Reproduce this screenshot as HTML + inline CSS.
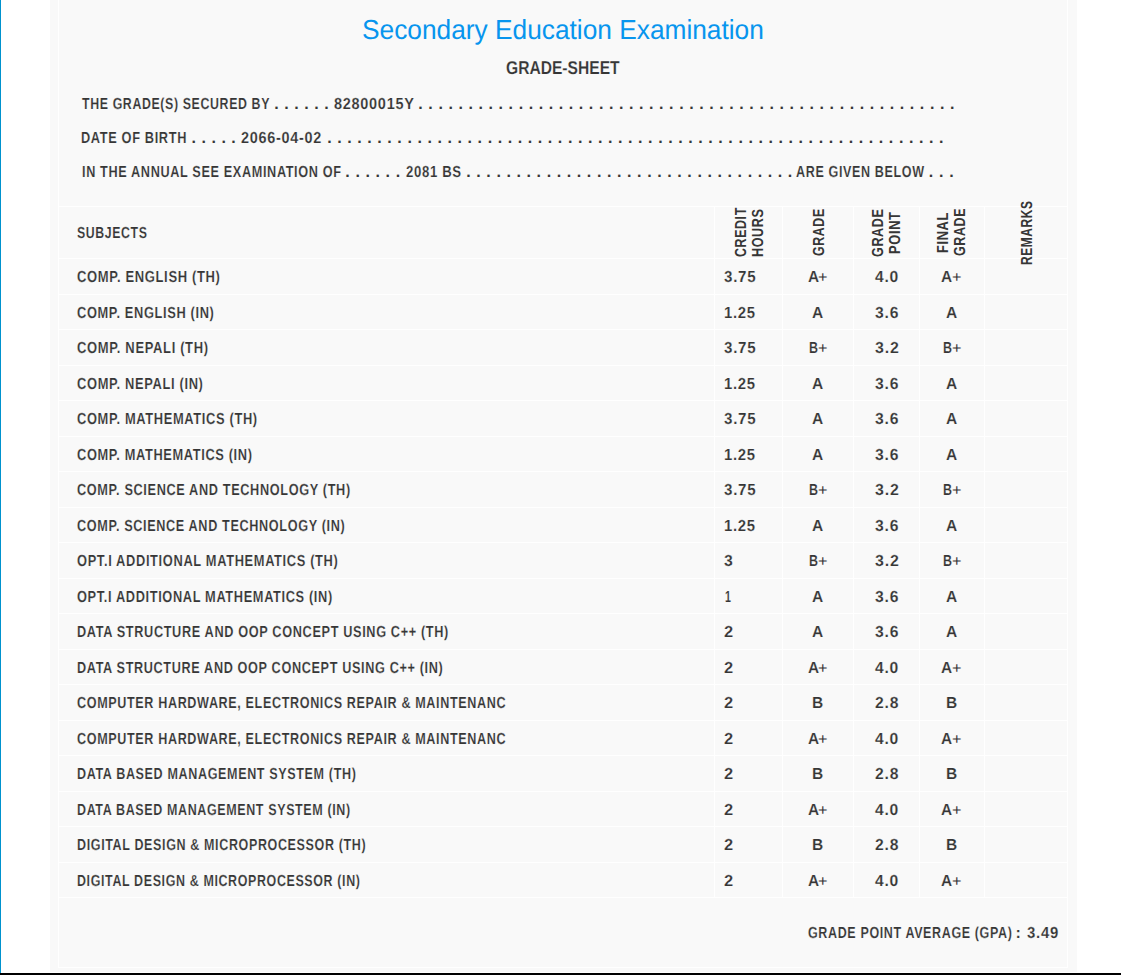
<!DOCTYPE html>
<html><head><meta charset="utf-8"><title>Grade Sheet</title>
<style>
html,body{margin:0;padding:0;}
body{width:1121px;height:975px;position:relative;overflow:hidden;background:#fff;font-family:"Liberation Sans",sans-serif;}
.t{position:absolute;white-space:pre;line-height:30px;transform-origin:0 0;}
.w{position:absolute;background:#fff;}
</style></head><body>
<div style="position:absolute;left:0;top:0;width:1px;height:973px;background:#0092ce"></div>
<div style="position:absolute;left:50px;top:0;width:1027px;height:972px;background:#f9f9f9"></div>
<div class="w" style="left:58px;top:206px;width:1010px;height:1px"></div>
<div class="w" style="left:58px;top:258px;width:1010px;height:1px"></div>
<div class="w" style="left:58px;top:294px;width:1010px;height:1px"></div>
<div class="w" style="left:58px;top:329px;width:1010px;height:1px"></div>
<div class="w" style="left:58px;top:365px;width:1010px;height:1px"></div>
<div class="w" style="left:58px;top:400px;width:1010px;height:1px"></div>
<div class="w" style="left:58px;top:436px;width:1010px;height:1px"></div>
<div class="w" style="left:58px;top:471px;width:1010px;height:1px"></div>
<div class="w" style="left:58px;top:507px;width:1010px;height:1px"></div>
<div class="w" style="left:58px;top:542px;width:1010px;height:1px"></div>
<div class="w" style="left:58px;top:578px;width:1010px;height:1px"></div>
<div class="w" style="left:58px;top:613px;width:1010px;height:1px"></div>
<div class="w" style="left:58px;top:649px;width:1010px;height:1px"></div>
<div class="w" style="left:58px;top:684px;width:1010px;height:1px"></div>
<div class="w" style="left:58px;top:720px;width:1010px;height:1px"></div>
<div class="w" style="left:58px;top:755px;width:1010px;height:1px"></div>
<div class="w" style="left:58px;top:791px;width:1010px;height:1px"></div>
<div class="w" style="left:58px;top:826px;width:1010px;height:1px"></div>
<div class="w" style="left:58px;top:862px;width:1010px;height:1px"></div>
<div class="w" style="left:58px;top:897px;width:1010px;height:1px"></div>
<div class="w" style="left:58px;top:967px;width:1010px;height:1px"></div>
<div class="w" style="left:714px;top:206px;width:1px;height:692px"></div>
<div class="w" style="left:782px;top:206px;width:1px;height:692px"></div>
<div class="w" style="left:853px;top:206px;width:1px;height:692px"></div>
<div class="w" style="left:919px;top:206px;width:1px;height:692px"></div>
<div class="w" style="left:984px;top:206px;width:1px;height:692px"></div>
<div class="w" style="left:58px;top:0;width:1px;height:968px"></div>
<div class="w" style="left:1067px;top:0;width:1px;height:968px"></div>
<div style="position:absolute;left:0;top:973px;width:1121px;height:2px;background:#000"></div>
<div class="t" style="left:361.79px;top:15px;font:27.5px 'Liberation Sans';text-rendering:geometricPrecision;line-height:30px;color:#0795ee;transform:scaleX(0.9559);">Secondary Education Examination</div>
<div class="t" style="left:506.46px;top:53px;font:bold 18.5px 'Liberation Sans';letter-spacing:0px;text-rendering:geometricPrecision;-webkit-text-stroke:0.15px #f9f9f9;line-height:30px;color:#363636;transform:scaleX(0.8436);">GRADE-SHEET</div>
<div class="t" style="left:81.6px;top:90px;font:bold 16px 'Liberation Sans';letter-spacing:0.8px;text-rendering:geometricPrecision;-webkit-text-stroke:0.15px #f9f9f9;line-height:30px;color:#363636;transform:scaleX(0.7727);">THE GRADE(S) SECURED BY</div>
<div class="t" style="left:333.7px;top:90px;font:bold 16px 'Liberation Sans';letter-spacing:0.8px;text-rendering:geometricPrecision;-webkit-text-stroke:0.15px #f9f9f9;line-height:30px;color:#363636;transform:scaleX(0.9046);">82800015Y</div>
<div class="t" style="left:81.4px;top:124px;font:bold 16px 'Liberation Sans';letter-spacing:0.8px;text-rendering:geometricPrecision;-webkit-text-stroke:0.15px #f9f9f9;line-height:30px;color:#363636;transform:scaleX(0.7985);">DATE OF BIRTH</div>
<div class="t" style="left:241.2px;top:124px;font:bold 16px 'Liberation Sans';letter-spacing:0.8px;text-rendering:geometricPrecision;-webkit-text-stroke:0.15px #f9f9f9;line-height:30px;color:#363636;transform:scaleX(0.9011);">2066-04-02</div>
<div class="t" style="left:81.61px;top:158px;font:bold 16px 'Liberation Sans';letter-spacing:0.8px;text-rendering:geometricPrecision;-webkit-text-stroke:0.15px #f9f9f9;line-height:30px;color:#363636;transform:scaleX(0.7926);">IN THE ANNUAL SEE EXAMINATION OF</div>
<div class="t" style="left:405.58px;top:158px;font:bold 16px 'Liberation Sans';letter-spacing:0.8px;text-rendering:geometricPrecision;-webkit-text-stroke:0.15px #f9f9f9;line-height:30px;color:#363636;transform:scaleX(0.8212);">2081 BS</div>
<div class="t" style="left:795.62px;top:158px;font:bold 16px 'Liberation Sans';letter-spacing:0.8px;text-rendering:geometricPrecision;-webkit-text-stroke:0.15px #f9f9f9;line-height:30px;color:#363636;transform:scaleX(0.7846);">ARE GIVEN BELOW</div>
<div class="t" style="left:76.63px;top:219px;font:bold 16px 'Liberation Sans';letter-spacing:0.8px;text-rendering:geometricPrecision;-webkit-text-stroke:0.15px #f9f9f9;line-height:30px;color:#363636;transform:scaleX(0.7685);">SUBJECTS</div>
<div class="t" style="left:76.59px;top:263px;font:bold 16px 'Liberation Sans';letter-spacing:0.8px;text-rendering:geometricPrecision;-webkit-text-stroke:0.15px #f9f9f9;line-height:30px;color:#363636;transform:scaleX(0.8121);">COMP. ENGLISH (TH)</div>
<div class="t" style="left:723.96px;top:263px;font:bold 16px 'Liberation Sans';letter-spacing:0.8px;text-rendering:geometricPrecision;-webkit-text-stroke:0.15px #f9f9f9;line-height:30px;color:#363636;transform:scaleX(0.9438);">3.75</div>
<div class="t" style="left:807.94px;top:263px;font:bold 16px 'Liberation Sans';letter-spacing:0.8px;text-rendering:geometricPrecision;-webkit-text-stroke:0.15px #f9f9f9;line-height:30px;color:#363636;transform:scaleX(0.9600);">A</div>
<div class="t" style="left:818.11px;top:263px;font:15px 'Liberation Sans';text-rendering:geometricPrecision;line-height:30px;color:#363636;transform:scaleX(1.0857);">+</div>
<div class="t" style="left:941.44px;top:263px;font:bold 16px 'Liberation Sans';letter-spacing:0.8px;text-rendering:geometricPrecision;-webkit-text-stroke:0.15px #f9f9f9;line-height:30px;color:#363636;transform:scaleX(0.9600);">A</div>
<div class="t" style="left:951.61px;top:263px;font:15px 'Liberation Sans';text-rendering:geometricPrecision;line-height:30px;color:#363636;transform:scaleX(1.0857);">+</div>
<div class="t" style="left:875.3px;top:263px;font:bold 16px 'Liberation Sans';letter-spacing:0.8px;text-rendering:geometricPrecision;-webkit-text-stroke:0.15px #f9f9f9;line-height:30px;color:#363636;transform:scaleX(0.9783);">4.0</div>
<div class="t" style="left:76.6px;top:299px;font:bold 16px 'Liberation Sans';letter-spacing:0.8px;text-rendering:geometricPrecision;-webkit-text-stroke:0.15px #f9f9f9;line-height:30px;color:#363636;transform:scaleX(0.8018);">COMP. ENGLISH (IN)</div>
<div class="t" style="left:724.27px;top:299px;font:bold 16px 'Liberation Sans';letter-spacing:0.8px;text-rendering:geometricPrecision;-webkit-text-stroke:0.15px #f9f9f9;line-height:30px;color:#363636;transform:scaleX(0.9281);">1.25</div>
<div class="t" style="left:812.18px;top:299px;font:bold 16px 'Liberation Sans';letter-spacing:0.8px;text-rendering:geometricPrecision;-webkit-text-stroke:0.15px #f9f9f9;line-height:30px;color:#363636;transform:scaleX(0.9700);">A</div>
<div class="t" style="left:945.68px;top:299px;font:bold 16px 'Liberation Sans';letter-spacing:0.8px;text-rendering:geometricPrecision;-webkit-text-stroke:0.15px #f9f9f9;line-height:30px;color:#363636;transform:scaleX(0.9700);">A</div>
<div class="t" style="left:874.82px;top:299px;font:bold 16px 'Liberation Sans';letter-spacing:0.8px;text-rendering:geometricPrecision;-webkit-text-stroke:0.15px #f9f9f9;line-height:30px;color:#363636;transform:scaleX(0.9818);">3.6</div>
<div class="t" style="left:76.59px;top:334px;font:bold 16px 'Liberation Sans';letter-spacing:0.8px;text-rendering:geometricPrecision;-webkit-text-stroke:0.15px #f9f9f9;line-height:30px;color:#363636;transform:scaleX(0.8112);">COMP. NEPALI (TH)</div>
<div class="t" style="left:723.96px;top:334px;font:bold 16px 'Liberation Sans';letter-spacing:0.8px;text-rendering:geometricPrecision;-webkit-text-stroke:0.15px #f9f9f9;line-height:30px;color:#363636;transform:scaleX(0.9438);">3.75</div>
<div class="t" style="left:809.22px;top:334px;font:bold 16px 'Liberation Sans';letter-spacing:0.8px;text-rendering:geometricPrecision;-webkit-text-stroke:0.15px #f9f9f9;line-height:30px;color:#363636;transform:scaleX(0.7800);">B</div>
<div class="t" style="left:818.11px;top:334px;font:15px 'Liberation Sans';text-rendering:geometricPrecision;line-height:30px;color:#363636;transform:scaleX(1.0857);">+</div>
<div class="t" style="left:942.72px;top:334px;font:bold 16px 'Liberation Sans';letter-spacing:0.8px;text-rendering:geometricPrecision;-webkit-text-stroke:0.15px #f9f9f9;line-height:30px;color:#363636;transform:scaleX(0.7800);">B</div>
<div class="t" style="left:951.61px;top:334px;font:15px 'Liberation Sans';text-rendering:geometricPrecision;line-height:30px;color:#363636;transform:scaleX(1.0857);">+</div>
<div class="t" style="left:875.1px;top:334px;font:bold 16px 'Liberation Sans';letter-spacing:0.8px;text-rendering:geometricPrecision;-webkit-text-stroke:0.15px #f9f9f9;line-height:30px;color:#363636;transform:scaleX(0.9955);">3.2</div>
<div class="t" style="left:76.59px;top:370px;font:bold 16px 'Liberation Sans';letter-spacing:0.8px;text-rendering:geometricPrecision;-webkit-text-stroke:0.15px #f9f9f9;line-height:30px;color:#363636;transform:scaleX(0.8058);">COMP. NEPALI (IN)</div>
<div class="t" style="left:724.27px;top:370px;font:bold 16px 'Liberation Sans';letter-spacing:0.8px;text-rendering:geometricPrecision;-webkit-text-stroke:0.15px #f9f9f9;line-height:30px;color:#363636;transform:scaleX(0.9281);">1.25</div>
<div class="t" style="left:812.18px;top:370px;font:bold 16px 'Liberation Sans';letter-spacing:0.8px;text-rendering:geometricPrecision;-webkit-text-stroke:0.15px #f9f9f9;line-height:30px;color:#363636;transform:scaleX(0.9700);">A</div>
<div class="t" style="left:945.68px;top:370px;font:bold 16px 'Liberation Sans';letter-spacing:0.8px;text-rendering:geometricPrecision;-webkit-text-stroke:0.15px #f9f9f9;line-height:30px;color:#363636;transform:scaleX(0.9700);">A</div>
<div class="t" style="left:874.82px;top:370px;font:bold 16px 'Liberation Sans';letter-spacing:0.8px;text-rendering:geometricPrecision;-webkit-text-stroke:0.15px #f9f9f9;line-height:30px;color:#363636;transform:scaleX(0.9818);">3.6</div>
<div class="t" style="left:76.6px;top:405px;font:bold 16px 'Liberation Sans';letter-spacing:0.8px;text-rendering:geometricPrecision;-webkit-text-stroke:0.15px #f9f9f9;line-height:30px;color:#363636;transform:scaleX(0.8045);">COMP. MATHEMATICS (TH)</div>
<div class="t" style="left:723.96px;top:405px;font:bold 16px 'Liberation Sans';letter-spacing:0.8px;text-rendering:geometricPrecision;-webkit-text-stroke:0.15px #f9f9f9;line-height:30px;color:#363636;transform:scaleX(0.9438);">3.75</div>
<div class="t" style="left:812.18px;top:405px;font:bold 16px 'Liberation Sans';letter-spacing:0.8px;text-rendering:geometricPrecision;-webkit-text-stroke:0.15px #f9f9f9;line-height:30px;color:#363636;transform:scaleX(0.9700);">A</div>
<div class="t" style="left:945.68px;top:405px;font:bold 16px 'Liberation Sans';letter-spacing:0.8px;text-rendering:geometricPrecision;-webkit-text-stroke:0.15px #f9f9f9;line-height:30px;color:#363636;transform:scaleX(0.9700);">A</div>
<div class="t" style="left:874.82px;top:405px;font:bold 16px 'Liberation Sans';letter-spacing:0.8px;text-rendering:geometricPrecision;-webkit-text-stroke:0.15px #f9f9f9;line-height:30px;color:#363636;transform:scaleX(0.9818);">3.6</div>
<div class="t" style="left:76.6px;top:441px;font:bold 16px 'Liberation Sans';letter-spacing:0.8px;text-rendering:geometricPrecision;-webkit-text-stroke:0.15px #f9f9f9;line-height:30px;color:#363636;transform:scaleX(0.8005);">COMP. MATHEMATICS (IN)</div>
<div class="t" style="left:724.27px;top:441px;font:bold 16px 'Liberation Sans';letter-spacing:0.8px;text-rendering:geometricPrecision;-webkit-text-stroke:0.15px #f9f9f9;line-height:30px;color:#363636;transform:scaleX(0.9281);">1.25</div>
<div class="t" style="left:812.18px;top:441px;font:bold 16px 'Liberation Sans';letter-spacing:0.8px;text-rendering:geometricPrecision;-webkit-text-stroke:0.15px #f9f9f9;line-height:30px;color:#363636;transform:scaleX(0.9700);">A</div>
<div class="t" style="left:945.68px;top:441px;font:bold 16px 'Liberation Sans';letter-spacing:0.8px;text-rendering:geometricPrecision;-webkit-text-stroke:0.15px #f9f9f9;line-height:30px;color:#363636;transform:scaleX(0.9700);">A</div>
<div class="t" style="left:874.82px;top:441px;font:bold 16px 'Liberation Sans';letter-spacing:0.8px;text-rendering:geometricPrecision;-webkit-text-stroke:0.15px #f9f9f9;line-height:30px;color:#363636;transform:scaleX(0.9818);">3.6</div>
<div class="t" style="left:76.6px;top:476px;font:bold 16px 'Liberation Sans';letter-spacing:0.8px;text-rendering:geometricPrecision;-webkit-text-stroke:0.15px #f9f9f9;line-height:30px;color:#363636;transform:scaleX(0.7950);">COMP. SCIENCE AND TECHNOLOGY (TH)</div>
<div class="t" style="left:723.96px;top:476px;font:bold 16px 'Liberation Sans';letter-spacing:0.8px;text-rendering:geometricPrecision;-webkit-text-stroke:0.15px #f9f9f9;line-height:30px;color:#363636;transform:scaleX(0.9438);">3.75</div>
<div class="t" style="left:809.22px;top:476px;font:bold 16px 'Liberation Sans';letter-spacing:0.8px;text-rendering:geometricPrecision;-webkit-text-stroke:0.15px #f9f9f9;line-height:30px;color:#363636;transform:scaleX(0.7800);">B</div>
<div class="t" style="left:818.11px;top:476px;font:15px 'Liberation Sans';text-rendering:geometricPrecision;line-height:30px;color:#363636;transform:scaleX(1.0857);">+</div>
<div class="t" style="left:942.72px;top:476px;font:bold 16px 'Liberation Sans';letter-spacing:0.8px;text-rendering:geometricPrecision;-webkit-text-stroke:0.15px #f9f9f9;line-height:30px;color:#363636;transform:scaleX(0.7800);">B</div>
<div class="t" style="left:951.61px;top:476px;font:15px 'Liberation Sans';text-rendering:geometricPrecision;line-height:30px;color:#363636;transform:scaleX(1.0857);">+</div>
<div class="t" style="left:875.1px;top:476px;font:bold 16px 'Liberation Sans';letter-spacing:0.8px;text-rendering:geometricPrecision;-webkit-text-stroke:0.15px #f9f9f9;line-height:30px;color:#363636;transform:scaleX(0.9955);">3.2</div>
<div class="t" style="left:76.61px;top:512px;font:bold 16px 'Liberation Sans';letter-spacing:0.8px;text-rendering:geometricPrecision;-webkit-text-stroke:0.15px #f9f9f9;line-height:30px;color:#363636;transform:scaleX(0.7914);">COMP. SCIENCE AND TECHNOLOGY (IN)</div>
<div class="t" style="left:724.27px;top:512px;font:bold 16px 'Liberation Sans';letter-spacing:0.8px;text-rendering:geometricPrecision;-webkit-text-stroke:0.15px #f9f9f9;line-height:30px;color:#363636;transform:scaleX(0.9281);">1.25</div>
<div class="t" style="left:812.18px;top:512px;font:bold 16px 'Liberation Sans';letter-spacing:0.8px;text-rendering:geometricPrecision;-webkit-text-stroke:0.15px #f9f9f9;line-height:30px;color:#363636;transform:scaleX(0.9700);">A</div>
<div class="t" style="left:945.68px;top:512px;font:bold 16px 'Liberation Sans';letter-spacing:0.8px;text-rendering:geometricPrecision;-webkit-text-stroke:0.15px #f9f9f9;line-height:30px;color:#363636;transform:scaleX(0.9700);">A</div>
<div class="t" style="left:874.82px;top:512px;font:bold 16px 'Liberation Sans';letter-spacing:0.8px;text-rendering:geometricPrecision;-webkit-text-stroke:0.15px #f9f9f9;line-height:30px;color:#363636;transform:scaleX(0.9818);">3.6</div>
<div class="t" style="left:76.6px;top:547px;font:bold 16px 'Liberation Sans';letter-spacing:0.8px;text-rendering:geometricPrecision;-webkit-text-stroke:0.15px #f9f9f9;line-height:30px;color:#363636;transform:scaleX(0.8037);">OPT.I ADDITIONAL MATHEMATICS (TH)</div>
<div class="t" style="left:723.71px;top:547px;font:bold 16px 'Liberation Sans';letter-spacing:0.8px;text-rendering:geometricPrecision;-webkit-text-stroke:0.15px #f9f9f9;line-height:30px;color:#363636;transform:scaleX(0.9857);">3</div>
<div class="t" style="left:809.22px;top:547px;font:bold 16px 'Liberation Sans';letter-spacing:0.8px;text-rendering:geometricPrecision;-webkit-text-stroke:0.15px #f9f9f9;line-height:30px;color:#363636;transform:scaleX(0.7800);">B</div>
<div class="t" style="left:818.11px;top:547px;font:15px 'Liberation Sans';text-rendering:geometricPrecision;line-height:30px;color:#363636;transform:scaleX(1.0857);">+</div>
<div class="t" style="left:942.72px;top:547px;font:bold 16px 'Liberation Sans';letter-spacing:0.8px;text-rendering:geometricPrecision;-webkit-text-stroke:0.15px #f9f9f9;line-height:30px;color:#363636;transform:scaleX(0.7800);">B</div>
<div class="t" style="left:951.61px;top:547px;font:15px 'Liberation Sans';text-rendering:geometricPrecision;line-height:30px;color:#363636;transform:scaleX(1.0857);">+</div>
<div class="t" style="left:875.1px;top:547px;font:bold 16px 'Liberation Sans';letter-spacing:0.8px;text-rendering:geometricPrecision;-webkit-text-stroke:0.15px #f9f9f9;line-height:30px;color:#363636;transform:scaleX(0.9955);">3.2</div>
<div class="t" style="left:76.6px;top:583px;font:bold 16px 'Liberation Sans';letter-spacing:0.8px;text-rendering:geometricPrecision;-webkit-text-stroke:0.15px #f9f9f9;line-height:30px;color:#363636;transform:scaleX(0.7994);">OPT.I ADDITIONAL MATHEMATICS (IN)</div>
<div class="t" style="left:724.64px;top:583px;font:bold 16px 'Liberation Sans';letter-spacing:0.8px;text-rendering:geometricPrecision;-webkit-text-stroke:0.15px #f9f9f9;line-height:30px;color:#363636;transform:scaleX(0.6625);">1</div>
<div class="t" style="left:812.18px;top:583px;font:bold 16px 'Liberation Sans';letter-spacing:0.8px;text-rendering:geometricPrecision;-webkit-text-stroke:0.15px #f9f9f9;line-height:30px;color:#363636;transform:scaleX(0.9700);">A</div>
<div class="t" style="left:945.68px;top:583px;font:bold 16px 'Liberation Sans';letter-spacing:0.8px;text-rendering:geometricPrecision;-webkit-text-stroke:0.15px #f9f9f9;line-height:30px;color:#363636;transform:scaleX(0.9700);">A</div>
<div class="t" style="left:874.82px;top:583px;font:bold 16px 'Liberation Sans';letter-spacing:0.8px;text-rendering:geometricPrecision;-webkit-text-stroke:0.15px #f9f9f9;line-height:30px;color:#363636;transform:scaleX(0.9818);">3.6</div>
<div class="t" style="left:76.6px;top:618px;font:bold 16px 'Liberation Sans';letter-spacing:0.8px;text-rendering:geometricPrecision;-webkit-text-stroke:0.15px #f9f9f9;line-height:30px;color:#363636;transform:scaleX(0.7953);">DATA STRUCTURE AND OOP CONCEPT USING C++ (TH)</div>
<div class="t" style="left:723.67px;top:618px;font:bold 16px 'Liberation Sans';letter-spacing:0.8px;text-rendering:geometricPrecision;-webkit-text-stroke:0.15px #f9f9f9;line-height:30px;color:#363636;transform:scaleX(1.0286);">2</div>
<div class="t" style="left:812.18px;top:618px;font:bold 16px 'Liberation Sans';letter-spacing:0.8px;text-rendering:geometricPrecision;-webkit-text-stroke:0.15px #f9f9f9;line-height:30px;color:#363636;transform:scaleX(0.9700);">A</div>
<div class="t" style="left:945.68px;top:618px;font:bold 16px 'Liberation Sans';letter-spacing:0.8px;text-rendering:geometricPrecision;-webkit-text-stroke:0.15px #f9f9f9;line-height:30px;color:#363636;transform:scaleX(0.9700);">A</div>
<div class="t" style="left:874.82px;top:618px;font:bold 16px 'Liberation Sans';letter-spacing:0.8px;text-rendering:geometricPrecision;-webkit-text-stroke:0.15px #f9f9f9;line-height:30px;color:#363636;transform:scaleX(0.9818);">3.6</div>
<div class="t" style="left:76.61px;top:654px;font:bold 16px 'Liberation Sans';letter-spacing:0.8px;text-rendering:geometricPrecision;-webkit-text-stroke:0.15px #f9f9f9;line-height:30px;color:#363636;transform:scaleX(0.7922);">DATA STRUCTURE AND OOP CONCEPT USING C++ (IN)</div>
<div class="t" style="left:723.67px;top:654px;font:bold 16px 'Liberation Sans';letter-spacing:0.8px;text-rendering:geometricPrecision;-webkit-text-stroke:0.15px #f9f9f9;line-height:30px;color:#363636;transform:scaleX(1.0286);">2</div>
<div class="t" style="left:807.94px;top:654px;font:bold 16px 'Liberation Sans';letter-spacing:0.8px;text-rendering:geometricPrecision;-webkit-text-stroke:0.15px #f9f9f9;line-height:30px;color:#363636;transform:scaleX(0.9600);">A</div>
<div class="t" style="left:818.11px;top:654px;font:15px 'Liberation Sans';text-rendering:geometricPrecision;line-height:30px;color:#363636;transform:scaleX(1.0857);">+</div>
<div class="t" style="left:941.44px;top:654px;font:bold 16px 'Liberation Sans';letter-spacing:0.8px;text-rendering:geometricPrecision;-webkit-text-stroke:0.15px #f9f9f9;line-height:30px;color:#363636;transform:scaleX(0.9600);">A</div>
<div class="t" style="left:951.61px;top:654px;font:15px 'Liberation Sans';text-rendering:geometricPrecision;line-height:30px;color:#363636;transform:scaleX(1.0857);">+</div>
<div class="t" style="left:875.3px;top:654px;font:bold 16px 'Liberation Sans';letter-spacing:0.8px;text-rendering:geometricPrecision;-webkit-text-stroke:0.15px #f9f9f9;line-height:30px;color:#363636;transform:scaleX(0.9783);">4.0</div>
<div class="t" style="left:76.61px;top:689px;font:bold 16px 'Liberation Sans';letter-spacing:0.8px;text-rendering:geometricPrecision;-webkit-text-stroke:0.15px #f9f9f9;line-height:30px;color:#363636;transform:scaleX(0.7867);">COMPUTER HARDWARE, ELECTRONICS REPAIR &amp; MAINTENANC</div>
<div class="t" style="left:723.67px;top:689px;font:bold 16px 'Liberation Sans';letter-spacing:0.8px;text-rendering:geometricPrecision;-webkit-text-stroke:0.15px #f9f9f9;line-height:30px;color:#363636;transform:scaleX(1.0286);">2</div>
<div class="t" style="left:812.18px;top:689px;font:bold 16px 'Liberation Sans';letter-spacing:0.8px;text-rendering:geometricPrecision;-webkit-text-stroke:0.15px #f9f9f9;line-height:30px;color:#363636;transform:scaleX(0.9700);">B</div>
<div class="t" style="left:945.68px;top:689px;font:bold 16px 'Liberation Sans';letter-spacing:0.8px;text-rendering:geometricPrecision;-webkit-text-stroke:0.15px #f9f9f9;line-height:30px;color:#363636;transform:scaleX(0.9700);">B</div>
<div class="t" style="left:874.82px;top:689px;font:bold 16px 'Liberation Sans';letter-spacing:0.8px;text-rendering:geometricPrecision;-webkit-text-stroke:0.15px #f9f9f9;line-height:30px;color:#363636;transform:scaleX(0.9818);">2.8</div>
<div class="t" style="left:76.61px;top:725px;font:bold 16px 'Liberation Sans';letter-spacing:0.8px;text-rendering:geometricPrecision;-webkit-text-stroke:0.15px #f9f9f9;line-height:30px;color:#363636;transform:scaleX(0.7867);">COMPUTER HARDWARE, ELECTRONICS REPAIR &amp; MAINTENANC</div>
<div class="t" style="left:723.67px;top:725px;font:bold 16px 'Liberation Sans';letter-spacing:0.8px;text-rendering:geometricPrecision;-webkit-text-stroke:0.15px #f9f9f9;line-height:30px;color:#363636;transform:scaleX(1.0286);">2</div>
<div class="t" style="left:807.94px;top:725px;font:bold 16px 'Liberation Sans';letter-spacing:0.8px;text-rendering:geometricPrecision;-webkit-text-stroke:0.15px #f9f9f9;line-height:30px;color:#363636;transform:scaleX(0.9600);">A</div>
<div class="t" style="left:818.11px;top:725px;font:15px 'Liberation Sans';text-rendering:geometricPrecision;line-height:30px;color:#363636;transform:scaleX(1.0857);">+</div>
<div class="t" style="left:941.44px;top:725px;font:bold 16px 'Liberation Sans';letter-spacing:0.8px;text-rendering:geometricPrecision;-webkit-text-stroke:0.15px #f9f9f9;line-height:30px;color:#363636;transform:scaleX(0.9600);">A</div>
<div class="t" style="left:951.61px;top:725px;font:15px 'Liberation Sans';text-rendering:geometricPrecision;line-height:30px;color:#363636;transform:scaleX(1.0857);">+</div>
<div class="t" style="left:875.3px;top:725px;font:bold 16px 'Liberation Sans';letter-spacing:0.8px;text-rendering:geometricPrecision;-webkit-text-stroke:0.15px #f9f9f9;line-height:30px;color:#363636;transform:scaleX(0.9783);">4.0</div>
<div class="t" style="left:76.61px;top:760px;font:bold 16px 'Liberation Sans';letter-spacing:0.8px;text-rendering:geometricPrecision;-webkit-text-stroke:0.15px #f9f9f9;line-height:30px;color:#363636;transform:scaleX(0.7853);">DATA BASED MANAGEMENT SYSTEM (TH)</div>
<div class="t" style="left:723.67px;top:760px;font:bold 16px 'Liberation Sans';letter-spacing:0.8px;text-rendering:geometricPrecision;-webkit-text-stroke:0.15px #f9f9f9;line-height:30px;color:#363636;transform:scaleX(1.0286);">2</div>
<div class="t" style="left:812.18px;top:760px;font:bold 16px 'Liberation Sans';letter-spacing:0.8px;text-rendering:geometricPrecision;-webkit-text-stroke:0.15px #f9f9f9;line-height:30px;color:#363636;transform:scaleX(0.9700);">B</div>
<div class="t" style="left:945.68px;top:760px;font:bold 16px 'Liberation Sans';letter-spacing:0.8px;text-rendering:geometricPrecision;-webkit-text-stroke:0.15px #f9f9f9;line-height:30px;color:#363636;transform:scaleX(0.9700);">B</div>
<div class="t" style="left:874.82px;top:760px;font:bold 16px 'Liberation Sans';letter-spacing:0.8px;text-rendering:geometricPrecision;-webkit-text-stroke:0.15px #f9f9f9;line-height:30px;color:#363636;transform:scaleX(0.9818);">2.8</div>
<div class="t" style="left:76.62px;top:796px;font:bold 16px 'Liberation Sans';letter-spacing:0.8px;text-rendering:geometricPrecision;-webkit-text-stroke:0.15px #f9f9f9;line-height:30px;color:#363636;transform:scaleX(0.7810);">DATA BASED MANAGEMENT SYSTEM (IN)</div>
<div class="t" style="left:723.67px;top:796px;font:bold 16px 'Liberation Sans';letter-spacing:0.8px;text-rendering:geometricPrecision;-webkit-text-stroke:0.15px #f9f9f9;line-height:30px;color:#363636;transform:scaleX(1.0286);">2</div>
<div class="t" style="left:807.94px;top:796px;font:bold 16px 'Liberation Sans';letter-spacing:0.8px;text-rendering:geometricPrecision;-webkit-text-stroke:0.15px #f9f9f9;line-height:30px;color:#363636;transform:scaleX(0.9600);">A</div>
<div class="t" style="left:818.11px;top:796px;font:15px 'Liberation Sans';text-rendering:geometricPrecision;line-height:30px;color:#363636;transform:scaleX(1.0857);">+</div>
<div class="t" style="left:941.44px;top:796px;font:bold 16px 'Liberation Sans';letter-spacing:0.8px;text-rendering:geometricPrecision;-webkit-text-stroke:0.15px #f9f9f9;line-height:30px;color:#363636;transform:scaleX(0.9600);">A</div>
<div class="t" style="left:951.61px;top:796px;font:15px 'Liberation Sans';text-rendering:geometricPrecision;line-height:30px;color:#363636;transform:scaleX(1.0857);">+</div>
<div class="t" style="left:875.3px;top:796px;font:bold 16px 'Liberation Sans';letter-spacing:0.8px;text-rendering:geometricPrecision;-webkit-text-stroke:0.15px #f9f9f9;line-height:30px;color:#363636;transform:scaleX(0.9783);">4.0</div>
<div class="t" style="left:76.62px;top:831px;font:bold 16px 'Liberation Sans';letter-spacing:0.8px;text-rendering:geometricPrecision;-webkit-text-stroke:0.15px #f9f9f9;line-height:30px;color:#363636;transform:scaleX(0.7826);">DIGITAL DESIGN &amp; MICROPROCESSOR (TH)</div>
<div class="t" style="left:723.67px;top:831px;font:bold 16px 'Liberation Sans';letter-spacing:0.8px;text-rendering:geometricPrecision;-webkit-text-stroke:0.15px #f9f9f9;line-height:30px;color:#363636;transform:scaleX(1.0286);">2</div>
<div class="t" style="left:812.18px;top:831px;font:bold 16px 'Liberation Sans';letter-spacing:0.8px;text-rendering:geometricPrecision;-webkit-text-stroke:0.15px #f9f9f9;line-height:30px;color:#363636;transform:scaleX(0.9700);">B</div>
<div class="t" style="left:945.68px;top:831px;font:bold 16px 'Liberation Sans';letter-spacing:0.8px;text-rendering:geometricPrecision;-webkit-text-stroke:0.15px #f9f9f9;line-height:30px;color:#363636;transform:scaleX(0.9700);">B</div>
<div class="t" style="left:874.82px;top:831px;font:bold 16px 'Liberation Sans';letter-spacing:0.8px;text-rendering:geometricPrecision;-webkit-text-stroke:0.15px #f9f9f9;line-height:30px;color:#363636;transform:scaleX(0.9818);">2.8</div>
<div class="t" style="left:76.62px;top:867px;font:bold 16px 'Liberation Sans';letter-spacing:0.8px;text-rendering:geometricPrecision;-webkit-text-stroke:0.15px #f9f9f9;line-height:30px;color:#363636;transform:scaleX(0.7785);">DIGITAL DESIGN &amp; MICROPROCESSOR (IN)</div>
<div class="t" style="left:723.67px;top:867px;font:bold 16px 'Liberation Sans';letter-spacing:0.8px;text-rendering:geometricPrecision;-webkit-text-stroke:0.15px #f9f9f9;line-height:30px;color:#363636;transform:scaleX(1.0286);">2</div>
<div class="t" style="left:807.94px;top:867px;font:bold 16px 'Liberation Sans';letter-spacing:0.8px;text-rendering:geometricPrecision;-webkit-text-stroke:0.15px #f9f9f9;line-height:30px;color:#363636;transform:scaleX(0.9600);">A</div>
<div class="t" style="left:818.11px;top:867px;font:15px 'Liberation Sans';text-rendering:geometricPrecision;line-height:30px;color:#363636;transform:scaleX(1.0857);">+</div>
<div class="t" style="left:941.44px;top:867px;font:bold 16px 'Liberation Sans';letter-spacing:0.8px;text-rendering:geometricPrecision;-webkit-text-stroke:0.15px #f9f9f9;line-height:30px;color:#363636;transform:scaleX(0.9600);">A</div>
<div class="t" style="left:951.61px;top:867px;font:15px 'Liberation Sans';text-rendering:geometricPrecision;line-height:30px;color:#363636;transform:scaleX(1.0857);">+</div>
<div class="t" style="left:875.3px;top:867px;font:bold 16px 'Liberation Sans';letter-spacing:0.8px;text-rendering:geometricPrecision;-webkit-text-stroke:0.15px #f9f9f9;line-height:30px;color:#363636;transform:scaleX(0.9783);">4.0</div>
<div class="t" style="left:807.72px;top:919px;font:bold 16px 'Liberation Sans';letter-spacing:0.8px;text-rendering:geometricPrecision;-webkit-text-stroke:0.15px #f9f9f9;line-height:30px;color:#363636;transform:scaleX(0.7819);">GRADE POINT AVERAGE (GPA)</div>
<div class="t" style="left:1015.5px;top:919px;font:bold 16px 'Liberation Sans';letter-spacing:0.8px;text-rendering:geometricPrecision;-webkit-text-stroke:0.15px #f9f9f9;line-height:30px;color:#363636;">:</div>
<div class="t" style="left:1026.67px;top:919px;font:bold 16px 'Liberation Sans';letter-spacing:0.8px;text-rendering:geometricPrecision;-webkit-text-stroke:0.15px #f9f9f9;line-height:30px;color:#363636;transform:scaleX(0.9313);">3.49</div>
<div class="t" style="left:274.25px;top:90px;font:bold 16px 'Liberation Sans';text-rendering:geometricPrecision;line-height:30px;color:#363636;letter-spacing:0.545px">. . . . . .</div>
<div class="t" style="left:418.35px;top:90px;font:bold 16px 'Liberation Sans';text-rendering:geometricPrecision;line-height:30px;color:#363636;letter-spacing:0.570px">. . . . . . . . . . . . . . . . . . . . . . . . . . . . . . . . . . . . . . . . . . . . . . . . . . . . . .</div>
<div class="t" style="left:191.45px;top:124px;font:bold 16px 'Liberation Sans';text-rendering:geometricPrecision;line-height:30px;color:#363636;letter-spacing:0.545px">. . . . .</div>
<div class="t" style="left:327.15px;top:124px;font:bold 16px 'Liberation Sans';text-rendering:geometricPrecision;line-height:30px;color:#363636;letter-spacing:0.570px">. . . . . . . . . . . . . . . . . . . . . . . . . . . . . . . . . . . . . . . . . . . . . . . . . . . . . . . . . . . . . .</div>
<div class="t" style="left:345.35px;top:158px;font:bold 16px 'Liberation Sans';text-rendering:geometricPrecision;line-height:30px;color:#363636;letter-spacing:0.585px">. . . . . .</div>
<div class="t" style="left:466.25px;top:158px;font:bold 16px 'Liberation Sans';text-rendering:geometricPrecision;line-height:30px;color:#363636;letter-spacing:0.580px">. . . . . . . . . . . . . . . . . . . . . . . . . . . . . . . . .</div>
<div class="t" style="left:928.85px;top:158px;font:bold 16px 'Liberation Sans';text-rendering:geometricPrecision;line-height:30px;color:#363636;letter-spacing:0.655px">. . .</div>
<div class="t r" style="left:727px;top:257.47px;font:bold 16px 'Liberation Sans';letter-spacing:0.8px;text-rendering:geometricPrecision;line-height:30px;color:#363636;transform:rotate(-90deg) scaleX(0.7746)">CREDIT</div>
<div class="t r" style="left:744px;top:256.78px;font:bold 16px 'Liberation Sans';letter-spacing:0.8px;text-rendering:geometricPrecision;line-height:30px;color:#363636;transform:rotate(-90deg) scaleX(0.7847)">HOURS</div>
<div class="t r" style="left:805.3px;top:256.07px;font:bold 16px 'Liberation Sans';letter-spacing:0.8px;text-rendering:geometricPrecision;line-height:30px;color:#363636;transform:rotate(-90deg) scaleX(0.7729)">GRADE</div>
<div class="t r" style="left:864.1px;top:256.78px;font:bold 16px 'Liberation Sans';letter-spacing:0.8px;text-rendering:geometricPrecision;line-height:30px;color:#363636;transform:rotate(-90deg) scaleX(0.7847)">GRADE</div>
<div class="t r" style="left:881px;top:253.81px;font:bold 16px 'Liberation Sans';letter-spacing:0.8px;text-rendering:geometricPrecision;line-height:30px;color:#363636;transform:rotate(-90deg) scaleX(0.8059)">POINT</div>
<div class="t r" style="left:929.3px;top:253.1px;font:bold 16px 'Liberation Sans';letter-spacing:0.8px;text-rendering:geometricPrecision;line-height:30px;color:#363636;transform:rotate(-90deg) scaleX(0.8020)">FINAL</div>
<div class="t r" style="left:946.1px;top:256.38px;font:bold 16px 'Liberation Sans';letter-spacing:0.8px;text-rendering:geometricPrecision;line-height:30px;color:#363636;transform:rotate(-90deg) scaleX(0.7780)">GRADE</div>
<div class="t r" style="left:1013.4px;top:264.65px;font:bold 16px 'Liberation Sans';letter-spacing:0.8px;text-rendering:geometricPrecision;line-height:30px;color:#363636;transform:rotate(-90deg) scaleX(0.7464)">REMARKS</div>
</body></html>
